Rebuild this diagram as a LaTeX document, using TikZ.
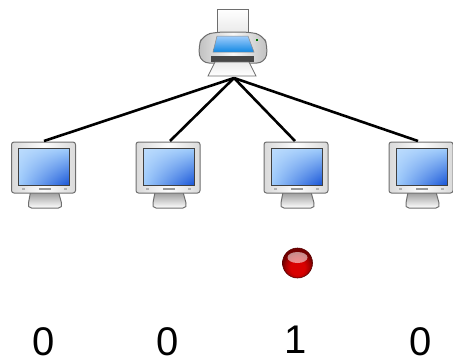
\documentclass[tikz,border=0pt]{standalone}
\usepackage{fontspec}
\setmainfont{Liberation Sans}
\usetikzlibrary{shadings}
\definecolor{edgegray}{RGB}{110,110,110}
\definecolor{bezellight}{RGB}{252,252,252}
\definecolor{bezeldark}{RGB}{218,218,218}
\definecolor{scrlight}{RGB}{160,205,252}
\definecolor{scrdark}{RGB}{25,85,215}
\pgfdeclareradialshading{redball}{\pgfpoint{0bp}{-10bp}}{
  color(0bp)=(red!85!black);
  color(12bp)=(red!85!black);
  color(20bp)=(red!65!black);
  color(25bp)=(red!45!black);
  color(50bp)=(red!45!black)}
\tikzset{
  link/.style={line width=2.6pt,black},
  bit/.style={font=\fontsize{40}{40}\selectfont,inner sep=0pt,anchor=base},
  outline/.style={draw=edgegray,line width=1pt,line join=round},
  pics/monitor/.style={code={
    % stand
    \draw[outline,top color=bezeldark!70!black,bottom color=white]
      (-13,50) -- (-15,61) .. controls (-15.5,64) and (-15,66) .. (-12,66)
      -- (15,66) .. controls (18,66) and (18.5,64) .. (18,61) -- (15,50) -- cycle;
    % bezel
    \draw[outline,left color=bezeldark,right color=bezeldark,middle color=bezellight,rounded corners=2.5pt]
      (-32,0) -- (32,0) -- (32,51) -- (-32,51) -- cycle;
    \draw[draw=black!75,line width=.8pt,upper left=scrlight!70!white,upper right=scrlight,lower left=scrlight,lower right=scrdark]
      (-25,6) rectangle (26,43);
    \fill[black!40] (-5,46) rectangle (7,47.5);
    \fill[black!30] (-22,46) rectangle (-19,48);
    \fill[black!30] (20,46) rectangle (23,48);
  }},
}
\begin{document}
\begin{tikzpicture}[x=1pt,y=-1pt]
\useasboundingbox (0,0) rectangle (453,362);
\begin{scope}
\clip (0,0) rectangle (453,362);
\pic at (43.5,142) {monitor};
\pic at (168,142) {monitor};
\pic at (296,142) {monitor};
\pic at (421,142) {monitor};
\end{scope}
\coordinate (hub) at (234,78);
\coordinate (pc1) at (44,141);
\coordinate (pc2) at (170,141);
\coordinate (pc3) at (295,141);
\coordinate (pc4) at (418,141);
\draw[link] (hub) -- (pc1);
\draw[link] (hub) -- (pc2);
\draw[link] (hub) -- (pc3);
\draw[link] (hub) -- (pc4);
% printer
\draw[draw=edgegray,line width=.8pt,top color=white,bottom color=black!10] (217,9) -- (248,9) -- (248,37) -- (217,37) -- cycle;
\draw[outline,left color=black!25,right color=black!25,middle color=black!3,rounded corners=8pt]
  (217,32) -- (249,32) -- (263,35) -- (268,47) -- (265,63) -- (201,63) -- (198,47) -- (203,35) -- cycle;
\draw[draw=black!45,line width=.5pt,top color=scrlight,bottom color=scrdark!70!cyan] (217,36) -- (248,36) -- (254,52) -- (213,52) -- cycle;
\fill[black!72] (211,56) rectangle (254,62);
\draw[draw=edgegray,line width=.8pt,top color=black!8,bottom color=white] (215,62) -- (249,62) -- (256,76) -- (208,76) -- cycle;
\fill[green!45!black] (256,39) rectangle (258,41);
% ball
\node[circle,minimum size=30pt,inner sep=0pt,draw=red!35!black,line width=.6pt,shading=redball] (ball) at (297.5,263) {};
\fill[white,opacity=.55] (297.5,257.5) ellipse (10pt and 5.5pt);
% labels
\node[bit] (b1) at (44,355) {0};
\node[bit] (b2) at (168,355) {0};
\node[bit] (b3) at (296,353) {1};
\node[bit] (b4) at (421,355) {0};
\end{tikzpicture}
\end{document}
